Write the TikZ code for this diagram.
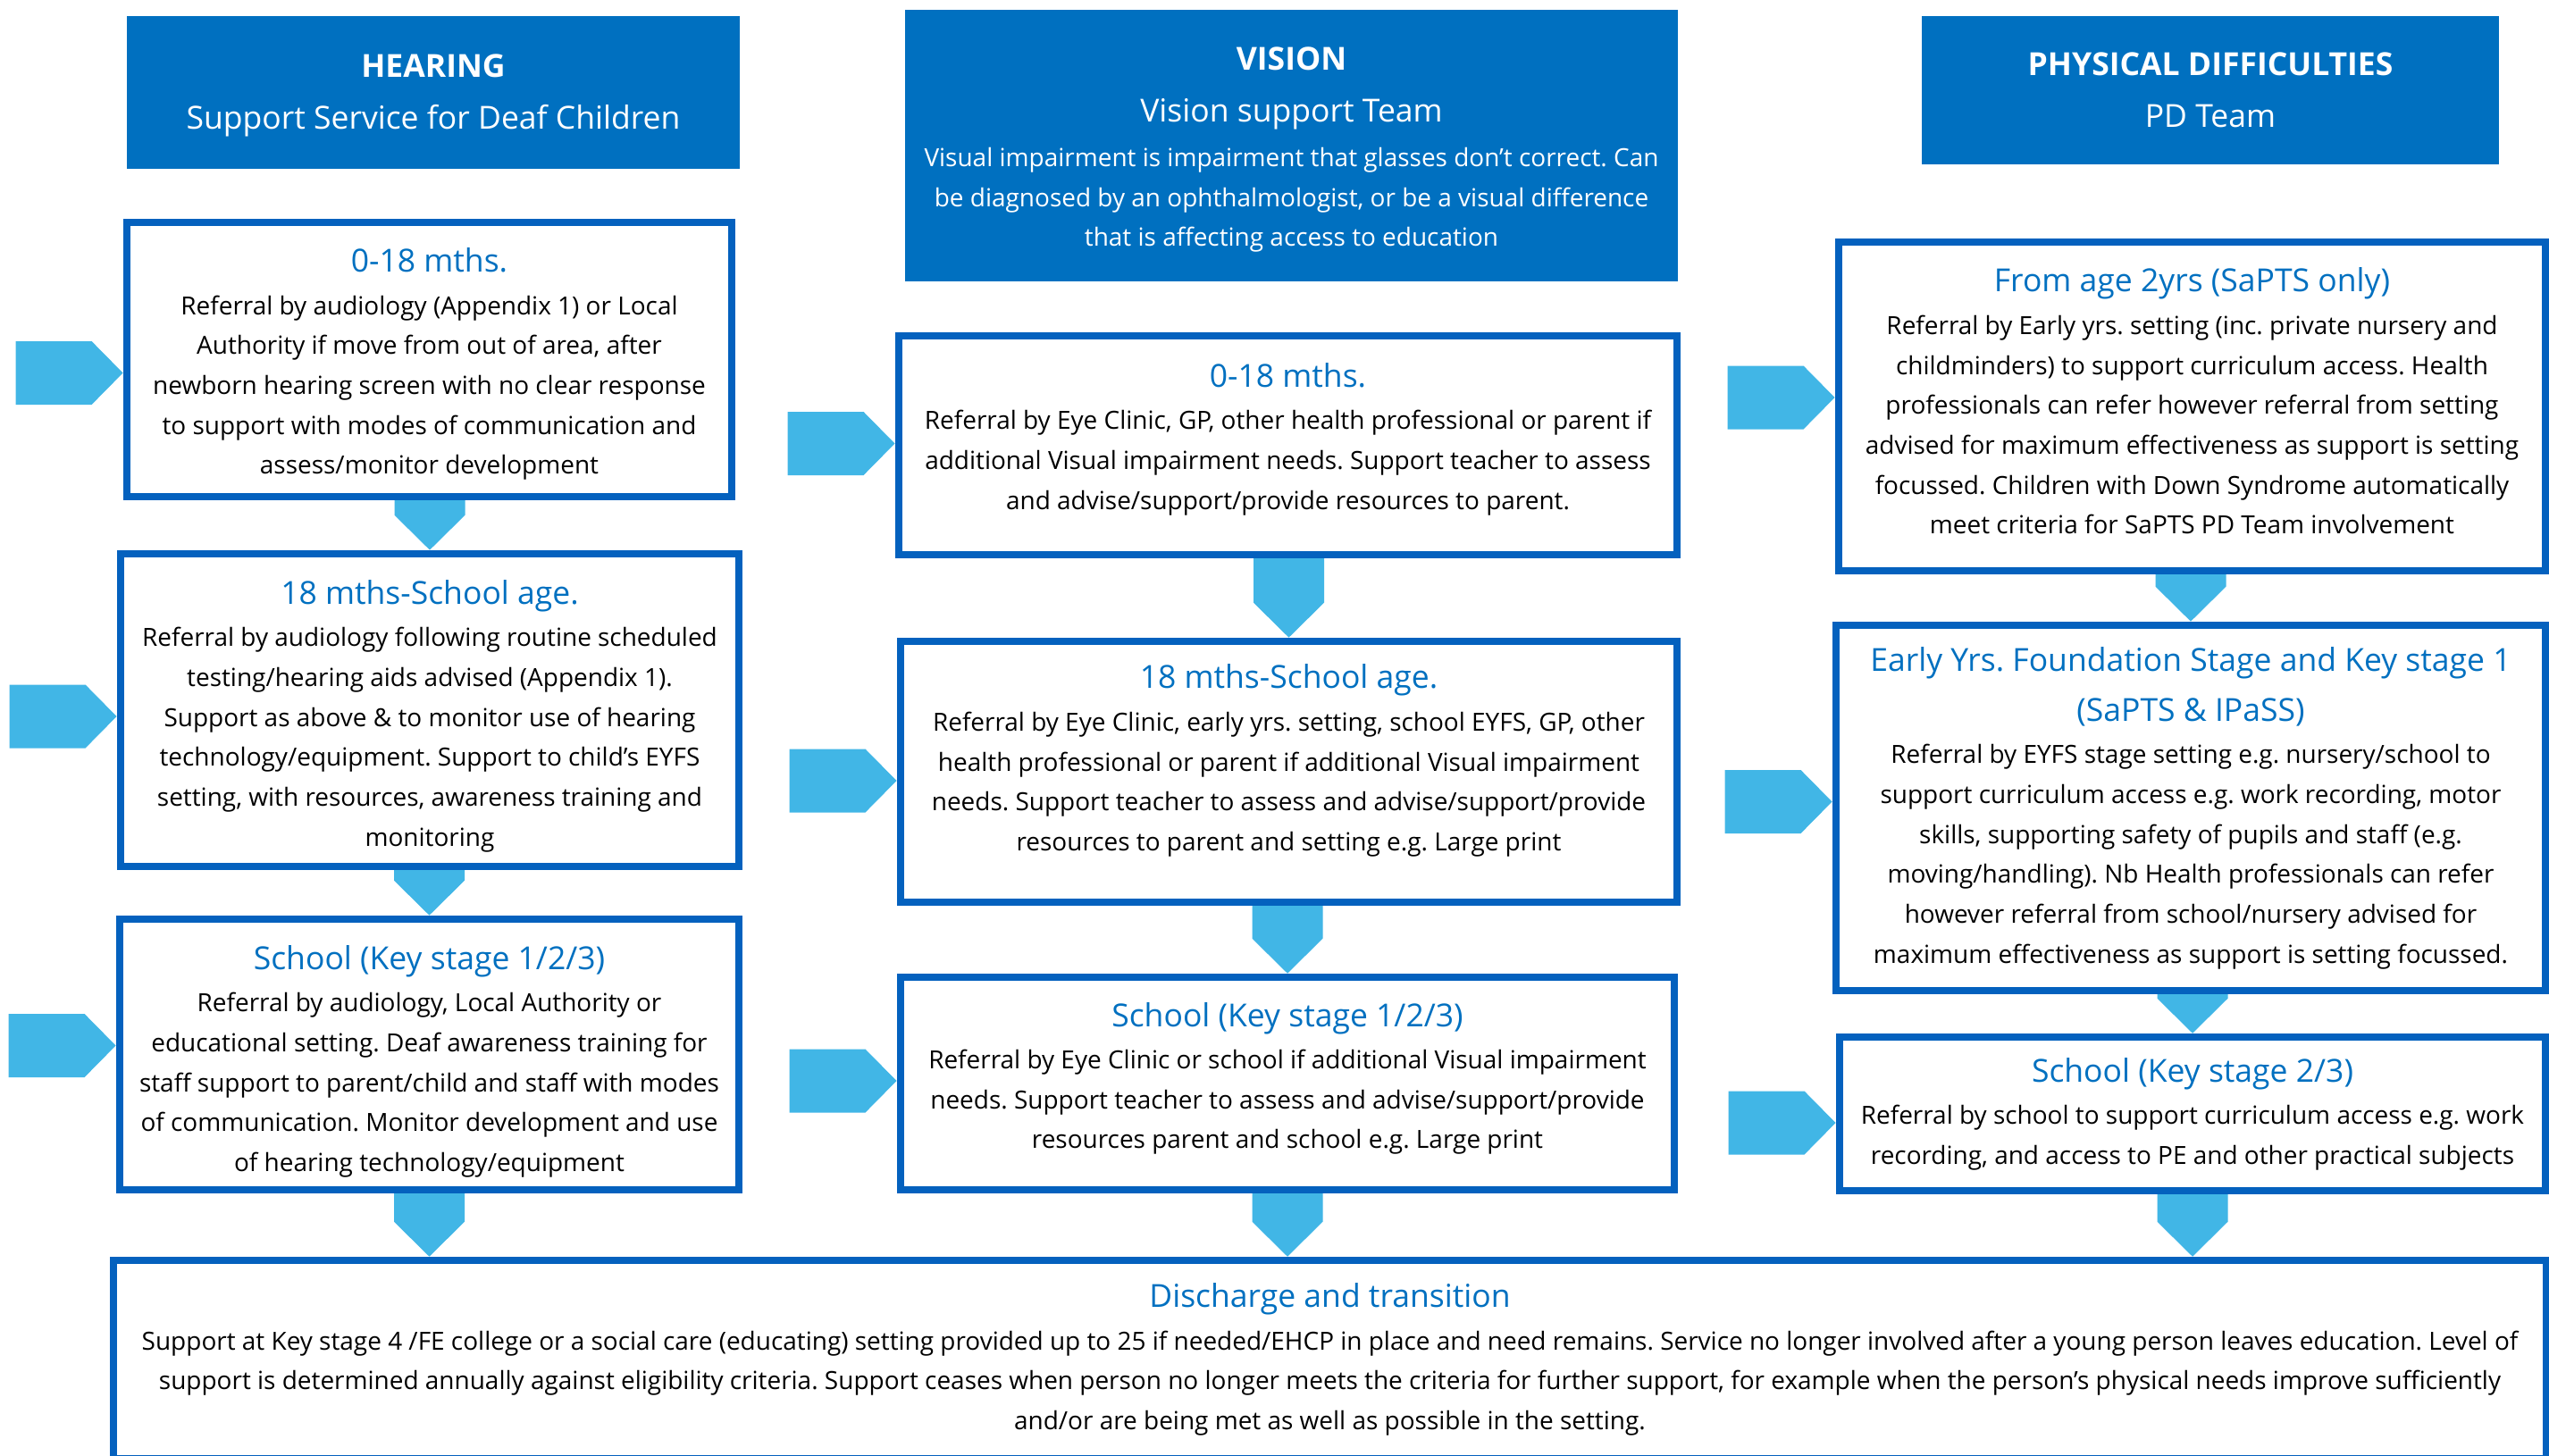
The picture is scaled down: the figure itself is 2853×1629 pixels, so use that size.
\documentclass[tikz,border=0pt]{standalone}
\usepackage{fontspec}
\setmainfont{Open Sans}
\usetikzlibrary{calc, backgrounds}

\definecolor{headblue}{HTML}{0070C0}
\definecolor{boxblue}{HTML}{0461BE}
\definecolor{titleblue}{HTML}{0070C0}
\definecolor{arrowblue}{HTML}{41B6E6}

\frenchspacing
\newcommand{\bodyfont}{\fontsize{7.95}{12.7}\selectfont}
\newcommand{\titlefont}{\fontsize{10.1}{15}\selectfont}
\newcommand{\headfont}{\fontsize{10.1}{16.5}\selectfont}
\newcommand{\boxtitle}[1]{{\titlefont\color{titleblue}#1}}
% invisible struts to nudge a text block up or down in its box
\newcommand{\padabove}[1]{\rule{0pt}{#1}}
\newcommand{\padbelow}[1]{\rule[-#1]{0pt}{#1}}

\begin{document}
\begin{tikzpicture}[x=0.01cm, y=-0.01cm,
    % Define the header boxes
    headbox/.style={fill=headblue, text=white, inner sep=0pt, align=center, font=\headfont},
    % Define the white boxes with the blue frame
    infobox/.style={draw=boxblue, line width=2.4pt, fill=white, inner sep=0pt, align=center, font=\bodyfont},
    % Define the block arrows (tip at the origin)
    pics/rarrow/.style={code={\fill[arrowblue] (0,0) -- (-35,-35.5) -- (-120,-35.5) -- (-120,35.5) -- (-35,35.5) -- cycle;}},
    pics/darrow/.style={code={\fill[arrowblue] (0,0) -- (-39.5,-39) -- (-39.5,-120) -- (39.5,-120) -- (39.5,-39) -- cycle;}}
]
\useasboundingbox (0,0) rectangle (2853,1629);

% Headers
\node[headbox, minimum width=6.86cm, minimum height=1.71cm] (hear) at (485,103.5)
    {\padabove{9.2pt}\textbf{HEARING}\\Support Service for Deaf Children};
\node[headbox, minimum width=8.65cm, minimum height=3.04cm] (vis) at (1445.5,163)
    {\padabove{9.8pt}\textbf{VISION}\\Vision support Team\\[-2.2pt]
     {\bodyfont Visual impairment is impairment that glasses don’t correct. Can}\\[-3.8pt]
     {\bodyfont be diagnosed by an ophthalmologist, or be a visual difference}\\[-3.8pt]
     {\bodyfont that is affecting access to education}};
\node[headbox, minimum width=6.46cm, minimum height=1.66cm] (phys) at (2474,101)
    {\textbf{PHYSICAL DIFFICULTIES}\\PD Team};

% Hearing column
\node[infobox, minimum width=6.77cm, minimum height=3.07cm] (h1) at (480.5,402.5)
    {\padabove{10.5pt}\boxtitle{0-18 mths.}\\[0.8pt]
     Referral by audiology (Appendix 1) or Local\\
     Authority if move from out of area, after\\
     newborn hearing screen with no clear response\\
     to support with modes of communication and\\
     assess/monitor development};
\node[infobox, minimum width=6.92cm, minimum height=3.50cm] (h2) at (481,795)
    {\padabove{11.4pt}\boxtitle{18 mths-School age.}\\[0.8pt]
     Referral by audiology following routine scheduled\\
     testing/hearing aids advised (Appendix 1).\\
     Support as above \& to monitor use of hearing\\
     technology/equipment. Support to child’s EYFS\\
     setting, with resources, awareness training and\\
     monitoring};
\node[infobox, minimum width=6.93cm, minimum height=3.03cm] (h3) at (480.5,1180.5)
    {\padabove{12.1pt}\boxtitle{School (Key stage 1/2/3)}\\[0.8pt]
     Referral by audiology, Local Authority or\\
     educational setting. Deaf awareness training for\\
     staff support to parent/child and staff with modes\\
     of communication. Monitor development and use\\
     of hearing technology/equipment};

% Vision column
\node[infobox, minimum width=8.71cm, minimum height=2.45cm] (v1) at (1441.5,498.5)
    {\boxtitle{0-18 mths.}\\[0.8pt]
     Referral by Eye Clinic, GP, other health professional or parent if\\
     additional Visual impairment needs. Support teacher to assess\\
     and advise/support/provide resources to parent.\padbelow{5.9pt}};
\node[infobox, minimum width=8.69cm, minimum height=2.92cm] (v2) at (1442.5,864)
    {\boxtitle{18 mths-School age.}\\[0.8pt]
     Referral by Eye Clinic, early yrs. setting, school EYFS, GP, other\\
     health professional or parent if additional Visual impairment\\
     needs. Support teacher to assess and advise/support/provide\\
     resources to parent and setting e.g. Large print\padbelow{9pt}};
\node[infobox, minimum width=8.66cm, minimum height=2.38cm] (v3) at (1441,1213)
    {\boxtitle{School (Key stage 1/2/3)}\\[0.8pt]
     Referral by Eye Clinic or school if additional Visual impairment\\
     needs. Support teacher to assess and advise/support/provide\\
     resources parent and school e.g. Large print\padbelow{5.1pt}};

% Physical difficulties column
\node[infobox, minimum width=7.91cm, minimum height=3.68cm] (p1) at (2453.5,455)
    {\boxtitle{From age 2yrs (SaPTS only)}\\[0.8pt]
     Referral by Early yrs. setting (inc. private nursery and\\
     childminders) to support curriculum access. Health\\
     professionals can refer however referral from setting\\
     advised for maximum effectiveness as support is setting\\
     focussed. Children with Down Syndrome automatically\\
     meet criteria for SaPTS PD Team involvement\padbelow{3.5pt}};
\node[infobox, minimum width=7.94cm, minimum height=4.09cm] (p2) at (2452,904.5)
    {\boxtitle{Early Yrs. Foundation Stage and Key stage 1}\\[3.3pt]
     \boxtitle{(SaPTS \& IPaSS)}\\[0.8pt]
     Referral by EYFS stage setting e.g. nursery/school to\\
     support curriculum access e.g. work recording, motor\\
     skills, supporting safety of pupils and staff (e.g.\\
     moving/handling). Nb Health professionals can refer\\
     however referral from school/nursery advised for\\
     maximum effectiveness as support is setting focussed.};
\node[infobox, minimum width=7.90cm, minimum height=1.72cm] (p3) at (2454,1247)
    {\boxtitle{School (Key stage 2/3)}\\[0.8pt]
     Referral by school to support curriculum access e.g. work\\
     recording, and access to PE and other practical subjects};

% Discharge box across the bottom
\node[infobox, minimum width=27.21cm, minimum height=2.22cm] (dis) at (1488.5,1522)
    {\boxtitle{Discharge and transition}\\[0.8pt]
     Support at Key stage 4 /FE college or a social care (educating) setting provided up to 25 if needed/EHCP in place and need remains. Service no longer involved after a young person leaves education. Level of\\
     support is determined annually against eligibility criteria. Support ceases when person no longer meets the criteria for further support, for example when the person’s physical needs improve sufficiently\\
     and/or are being met as well as possible in the setting.};

% Block arrows behind the boxes
\begin{scope}[on background layer]
\pic at ($(h1.west)+(0,15)$) {rarrow};
\pic at ($(h2.west)+(0,7)$) {rarrow};
\pic at ($(h3.west)+(0,-10)$) {rarrow};
\pic at ($(v1.west)+(0,-2)$) {rarrow};
\pic at ($(v2.west)+(0,10)$) {rarrow};
\pic at ($(v3.west)+(0,-3)$) {rarrow};
\pic at ($(p1.west)+(0,-10)$) {rarrow};
\pic at ($(p2.west)+(0,-7)$) {rarrow};
\pic at ($(p3.west)+(0,10)$) {rarrow};

\pic at (h2.north) {darrow};
\pic at (h3.north) {darrow};
\pic at (h3.south |- dis.north) {darrow};
\pic at (v2.north) {darrow};
\pic at (v3.north) {darrow};
\pic at (v3.south |- dis.north) {darrow};
\pic at (p2.north) {darrow};
\pic at (p3.north) {darrow};
\pic at (p3.south |- dis.north) {darrow};
\end{scope}

\end{tikzpicture}
\end{document}
